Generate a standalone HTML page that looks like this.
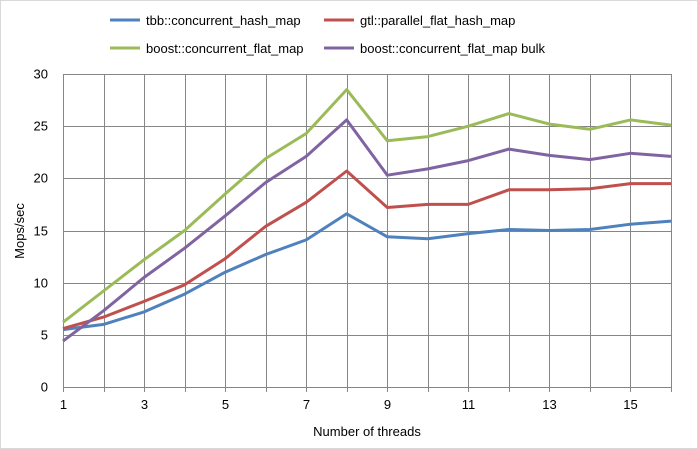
<!DOCTYPE html>
<html><head><meta charset="utf-8"><style>
html,body{margin:0;padding:0;background:#fff}
svg{display:block;font-family:"Liberation Sans",sans-serif}
</style></head><body>
<svg width="698" height="449" viewBox="0 0 698 449" xmlns="http://www.w3.org/2000/svg">
<rect x="0.5" y="0.5" width="697" height="448" fill="#fff" stroke="#d9d9d9"/>
<g id="grid" stroke="#868686" stroke-width="1"></g>
<g id="series" fill="none" stroke-width="3" stroke-linejoin="round"></g>
<g id="labels" font-size="13" fill="#000"></g>
<text x="367" y="436" font-size="13" text-anchor="middle">Number of threads</text>
<text transform="translate(24,231) rotate(-90)" font-size="13" text-anchor="middle">Mops/sec</text>
<g font-size="13">
<line x1="110" y1="20" x2="140" y2="20" stroke="#4f81bd" stroke-width="3"/><text x="146" y="25">tbb::concurrent_hash_map</text>
<line x1="324" y1="20" x2="354" y2="20" stroke="#c0504d" stroke-width="3"/><text x="360" y="25">gtl::parallel_flat_hash_map</text>
<line x1="110" y1="48" x2="140" y2="48" stroke="#9bbb59" stroke-width="3"/><text x="146" y="53">boost::concurrent_flat_map</text>
<line x1="324" y1="48" x2="354" y2="48" stroke="#8064a2" stroke-width="3"/><text x="360" y="53">boost::concurrent_flat_map bulk</text>
</g>
<script>
var X0=63,X1=671,Y0=387,Y30=74;
function px(i){return X0+(i-1)*(X1-X0)/15}
function py(v){return Y0-(Y0-Y30)*v/30}
var ns="http://www.w3.org/2000/svg",g=document.getElementById('grid'),L=document.getElementById('labels'),S=document.getElementById('series');
function el(p,t,a,txt){var e=document.createElementNS(ns,t);for(var k in a)e.setAttribute(k,a[k]);if(txt!=null)e.textContent=txt;p.appendChild(e);return e}
for(var v=0;v<=30;v+=5){var y=Math.round(py(v))+.5;el(g,'line',{x1:X0,x2:X1,y1:y,y2:y});el(L,'text',{x:48,y:y+4,'text-anchor':'end'},v)}
for(var i=1;i<=16;i++){var x=Math.round(px(i))+.5;el(g,'line',{x1:x,x2:x,y1:Y30,y2:Y0+5});if(i%2)el(L,'text',{x:x,y:Y0+22,'text-anchor':'middle'},i)}
var D=[["#4f81bd",[5.5,6.0,7.2,8.9,11.0,12.7,14.1,16.6,14.4,14.2,14.7,15.1,15.0,15.1,15.6,15.9]],
["#c0504d",[5.6,6.7,8.2,9.8,12.3,15.4,17.7,20.7,17.2,17.5,17.5,18.9,18.9,19.0,19.5,19.5]],
["#9bbb59",[6.2,9.2,12.2,15.0,18.5,21.9,24.3,28.5,23.6,24.0,25.0,26.2,25.2,24.7,25.6,25.1]],
["#8064a2",[4.4,7.3,10.5,13.3,16.4,19.6,22.1,25.6,20.3,20.9,21.7,22.8,22.2,21.8,22.4,22.1]]];
D.forEach(function(d){el(S,'polyline',{stroke:d[0],points:d[1].map(function(v,i){return px(i+1).toFixed(1)+','+py(v).toFixed(1)}).join(' ')})});
</script>
</svg>
</body></html>
